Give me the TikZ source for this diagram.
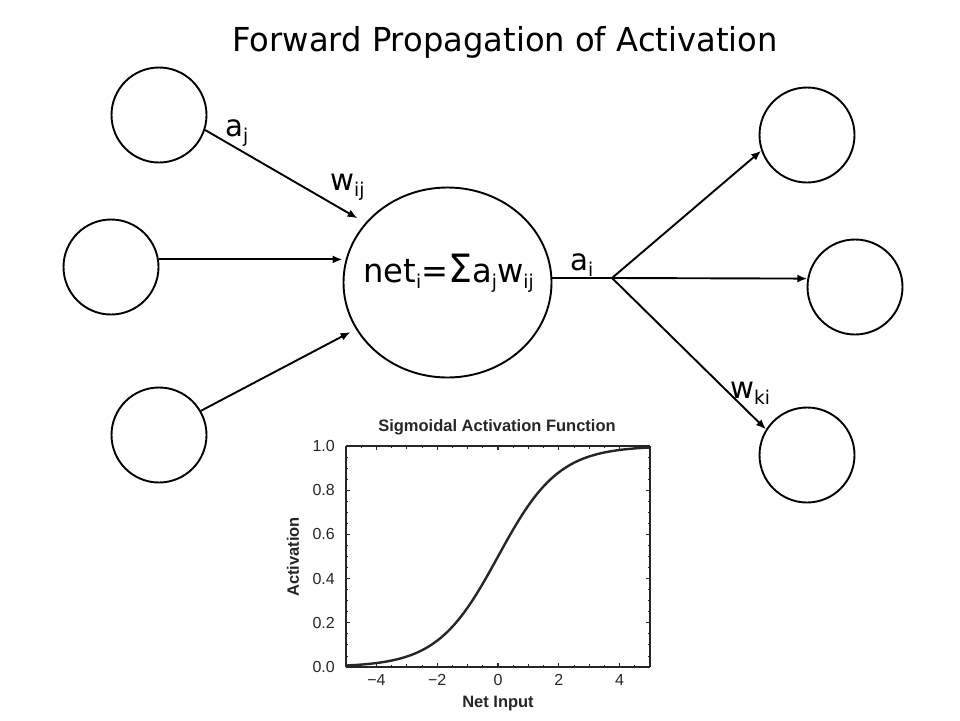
\documentclass[tikz,border=0pt]{standalone}
\usepackage{fontspec}
\setmainfont{DejaVu Sans}[FakeStretch=0.975]
\newfontfamily\plotfont{Liberation Sans}
\usetikzlibrary{shapes.geometric,arrows.meta,calc}
\newcommand\subx[1]{\raisebox{-6pt}{\fontsize{19}{19}\selectfont #1}}
\begin{document}
\begin{tikzpicture}[x=1pt,y=-1pt,
  neuron/.style={circle,draw,line width=1.9pt,minimum size=95pt,inner sep=0pt},
  arr/.style={line width=1.9pt,-{Latex[length=10pt,width=8pt]}},
  lbl/.style={font=\fontsize{30}{30}\selectfont,inner sep=0pt,anchor=base west},
  plotlbl/.style={font=\plotfont\fontsize{16}{16}\selectfont,inner sep=0pt,text=black!85},
  plotbold/.style={font=\plotfont\bfseries\fontsize{16.5}{16.5}\selectfont,inner sep=0pt,text=black!85}
]
\useasboundingbox (0,0) rectangle (960,720);
% title
\node[font=\fontsize{33}{33}\selectfont,inner sep=0pt,anchor=base] (title) at (505,51) {Forward Propagation of Activation};
% neurons
\node[neuron] (tl) at (159,115) {};
\node[neuron] (ml) at (111,267) {};
\node[neuron] (bl) at (159,435) {};
\node[ellipse,draw,line width=1.9pt,minimum width=208pt,minimum height=190pt,inner sep=0pt] (net) at (447.5,282.5) {};
\node[neuron] (tr) at (807,135) {};
\node[neuron] (mr) at (855,287) {};
\node[neuron] (br) at (807,455) {};
\node[font=\fontsize{33}{33}\selectfont,inner sep=0pt,anchor=base] (netlbl) at (448.5,282) {net\subx{i}={\fontsize{39}{39}\selectfont Σ}a\subx{j}w\subx{ij}};
% inputs
\draw[arr,shorten >=9pt] (tl.-18) -- (net.144);
\draw[arr] (ml.9.5) -- (ml.9.5 -| net.west);
\draw[arr,shorten >=6pt] (bl.30) -- (net.207);
% outputs
\coordinate (fork) at (612,278);
\draw[line width=1.9pt] (net.east |- fork) -- (fork);
\draw[arr] (fork) -- (tr.199);
\draw[arr] (fork) -- (mr.170);
\draw[arr] (fork) -- (br.148);
% labels
\node[lbl] (aj) at (225,136) {a\subx{j}};
\node[lbl] (wij) at (330,190) {w\subx{ij}};
\node[lbl] (ai) at (570,270) {a\subx{i}};
\node[lbl] (wki) at (730,398) {w\subx{ki}};
% sigmoid plot
\begin{scope}[line cap=butt]
\foreach \t in {-4,-2,0,2,4}{
  \draw[black!85,line width=1.2pt] ({498+30.4*\t},667) -- ({498+30.4*\t},663);
  \draw[black!85,line width=1.2pt] ({498+30.4*\t},446) -- ({498+30.4*\t},450);
}
\foreach \t in {-4.5,-3.5,...,4.5}{
  \draw[black!85,line width=1pt] ({498+30.4*\t},667) -- ({498+30.4*\t},665);
  \draw[black!85,line width=1pt] ({498+30.4*\t},446) -- ({498+30.4*\t},448);
}
\foreach \t in {-3,-1,1,3}{
  \draw[black!85,line width=1.2pt] ({498+30.4*\t},667) -- ({498+30.4*\t},664);
  \draw[black!85,line width=1.2pt] ({498+30.4*\t},446) -- ({498+30.4*\t},449);
}
\foreach \v in {0.2,0.4,0.6,0.8}{
  \draw[black!85,line width=1.2pt] (346,{667-221*\v}) -- (350,{667-221*\v});
  \draw[black!85,line width=1.2pt] (650,{667-221*\v}) -- (646,{667-221*\v});
}
\foreach \v in {0.05,0.1,...,0.96}{
  \draw[black!85,line width=0.9pt] (346,{667-221*\v}) -- (348,{667-221*\v});
  \draw[black!85,line width=0.9pt] (650,{667-221*\v}) -- (648,{667-221*\v});
}
\draw[black!85,line width=2.4pt] (346,667) -- (650,667);
\draw[black!85,line width=2.4pt] (346,446) -- (650,446);
\draw[black!85,line width=2.4pt] (346,446) -- (346,667);
\draw[black!85,line width=1.8pt] (650,446) -- (650,667);
\draw[black!85,line width=2.4pt,line join=round] plot[domain=-5:5,samples=120] ({498+30.4*\x},{667-221/(1+exp(-\x))});
\end{scope}
\node[plotbold,anchor=base] (ptitle) at (497,431) {Sigmoidal Activation Function};
\foreach \v/\s in {0/0.0,0.2/0.2,0.4/0.4,0.6/0.6,0.8/0.8,1/1.0}{
  \node[plotlbl,anchor=east] (yl\s) at (335,{667-221*\v}) {\s};
}
\foreach \t/\s in {-4/−4,-2/−2,0/0,2/2,4/4}{
  \node[plotlbl,anchor=north] (xl\t) at ({498+30.4*\t},674) {\s};
}
\node[plotbold,rotate=90,anchor=center] (ylab) at (293,557) {Activation};
\node[plotbold,anchor=base] (xlab) at (498,707) {Net Input};
\end{tikzpicture}
\end{document}
